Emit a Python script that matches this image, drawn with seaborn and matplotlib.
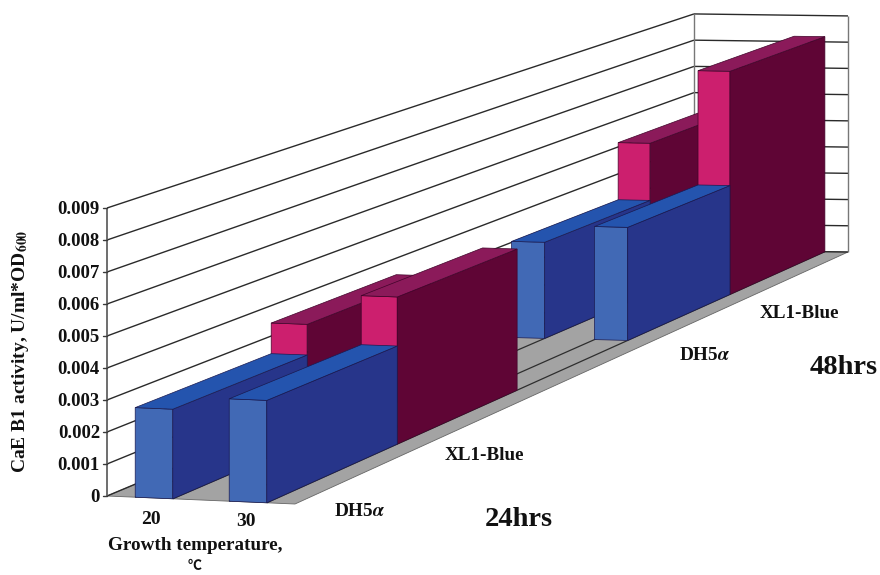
import numpy as np
import pandas as pd
import seaborn as sns
import matplotlib
matplotlib.use("Agg")
import matplotlib.pyplot as plt
from matplotlib.patches import Polygon

sns.set_theme(style="white")
plt.rcParams['font.family'] = ['Liberation Serif', 'DejaVu Serif']
plt.rcParams['mathtext.fontset'] = 'stix'

# ---- data ----
temperatures = ["20", "30"]
depth_slots = ["DH5α 24hrs", "XL1-Blue 24hrs", "", "DH5α 48hrs", "XL1-Blue 48hrs"]
values_20 = [0.0028, 0.0038, 0.0, 0.0034, 0.0055]
values_30 = [0.0032, 0.0048, 0.0, 0.0040, 0.0082]
y_ticks = [0, 0.001, 0.002, 0.003, 0.004, 0.005, 0.006, 0.007, 0.008, 0.009]
y_tick_labels = ["0", "0.001", "0.002", "0.003", "0.004", "0.005", "0.006", "0.007", "0.008", "0.009"]

df = pd.DataFrame({"depth": depth_slots, "20": values_20, "30": values_30})

# ---- projection (oblique perspective box) ----
A, B = np.array([107., 496.]), np.array([295., 504.])
D, C = np.array([694., 250.]), np.array([848., 252.])
K = 0.22
S1 = 1 / (1 + K)
PX_PER_UNIT = 32000.
N_X, N_D = len(temperatures), len(depth_slots)
BAR = 0.2


def proj(x, d, z=0.0):
    t = d / N_D
    s = 1 / (1 + K * t)
    f = (1 - s) / (1 - S1)
    u = x / N_X
    front = A + u * (B - A)
    back = D + u * (C - D)
    p = front + f * (back - front)
    return p[0], p[1] - z * PX_PER_UNIT * s


fig = plt.figure(figsize=(8.8, 5.75), dpi=100)
ax = fig.add_axes([0, 0, 1, 1])
ax.set_xlim(0, 880)
ax.set_ylim(575, 0)
ax.axis("off")


def poly(pts, fc, ec="#1a1a50", lw=0.5, z=2):
    ax.add_patch(Polygon([proj(*p) for p in pts], closed=True, fc=fc, ec=ec, lw=lw, zorder=z))


def line(p, q, color="#2a2a2a", lw=1.0, z=1):
    a, b = proj(*p), proj(*q)
    ax.plot([a[0], b[0]], [a[1], b[1]], color=color, lw=lw, zorder=z, solid_capstyle="butt")


# floor
poly([(0, 0), (N_X, 0), (N_X, N_D), (0, N_D)], "#a3a3a3", ec="#666666", lw=0.6, z=1)
for xi in range(N_X):
    for xe in (xi + 0.5 - BAR, xi + 0.5 + BAR):
        line((xe, 0), (xe, N_D), color="#2e2e2e", lw=0.9, z=1.5)

# walls
top = y_ticks[-1]
for v in y_ticks:
    line((0, 0, v), (0, N_D, v))
    line((0, N_D, v), (N_X, N_D, v))
line((0, 0, 0), (0, 0, top), color="#555555", lw=1.2)
line((0, N_D, 0), (0, N_D, top), color="#777777", lw=1.0)
line((N_X, N_D, 0), (N_X, N_D, top), color="#777777", lw=1.0)

TXT = "#111111"
for v, lab in zip(y_ticks, y_tick_labels):
    px, py = proj(0, 0, v)
    ax.plot([px - 4, px], [py, py], color="#3a3a3a", lw=1.0, zorder=1)
    ax.text(px - 7, py + 2, lab, ha="right", va="center", fontsize=13.5, fontweight="bold", color=TXT)

# bars
BLUE = dict(front="#4169b5", side="#27358a", top="#2454ae")
PINK = dict(front="#cc1f6e", side="#5f0535", top="#8b1a5a")
series_colors = [BLUE, PINK, None, BLUE, PINK]
for xi, col in enumerate(temperatures):
    x0, x1 = xi + 0.5 - BAR, xi + 0.5 + BAR
    vals = df[col].to_numpy()
    for di in range(N_D - 1, -1, -1):
        v = vals[di]
        if v <= 0:
            continue
        c = series_colors[di]
        d0, d1 = di, di + 1
        ec = "#1a1a50" if c is BLUE else "#40042a"
        poly([(x0, d0, 0), (x1, d0, 0), (x1, d0, v), (x0, d0, v)], c["front"], ec=ec)
        poly([(x1, d0, 0), (x1, d1, 0), (x1, d1, v), (x1, d0, v)], c["side"], ec=ec)
        poly([(x0, d0, v), (x1, d0, v), (x1, d1, v), (x0, d1, v)], c["top"], ec=ec)

# text
ax.text(21, 351, "CaE B1 activity, U/ml*OD$_{\\mathbf{600}}$", rotation=90, ha="center", va="center",
        fontsize=14, fontweight="bold", color=TXT)
ax.text(151, 520, temperatures[0], ha="center", va="center", fontsize=14, fontweight="bold", color=TXT)
ax.text(246, 522, temperatures[1], ha="center", va="center", fontsize=14, fontweight="bold", color=TXT)
ax.text(195, 546, "Growth temperature,", ha="center", va="center", fontsize=13.8, fontweight="bold", color=TXT)
ax.text(195, 566, "℃", ha="center", va="center", fontsize=10, fontweight="bold", color=TXT,
        family=['Noto Sans CJK SC', 'DejaVu Sans'])
for (lx, ly, lab) in [(360, 511, "DH5$\\mathbfit{\\alpha}$"), (484, 456, "XL1-Blue"),
                      (705, 356, "DH5$\\mathbfit{\\alpha}$"), (799, 313, "XL1-Blue")]:
    ax.text(lx, ly, lab, ha="center", va="center", fontsize=13.8, fontweight="bold", color=TXT)
ax.text(519, 520, "24hrs", ha="center", va="center", fontsize=20.5, fontweight="bold", color=TXT)
ax.text(844, 368, "48hrs", ha="center", va="center", fontsize=20.5, fontweight="bold", color=TXT)

fig.savefig("out.png", dpi=100, facecolor="white")
